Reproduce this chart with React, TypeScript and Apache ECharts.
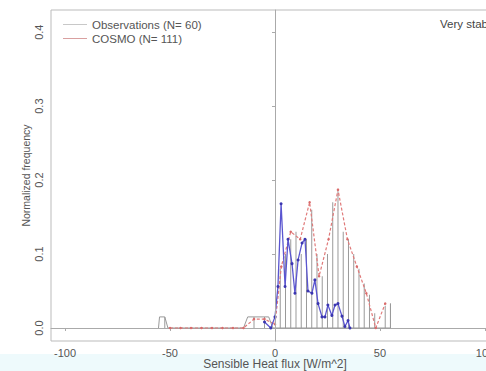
import React, { useEffect, useRef } from "react";
import * as echarts from "echarts";

const xTicks = [-100, -50, 0, 50, 100];
const yTicks = [0, 0.1, 0.2, 0.3, 0.4];

// Observation histogram bars (bin positions, normalized frequency)
const obsBarX = [-52.5, -10, -5, 2.5, 5, 7.5, 10, 12.5, 15, 17.5, 20, 22.5, 25, 27.5, 30, 32.5, 35, 37.5, 40, 42.5, 45, 47.5, 52.5, 55];
const obsBarY = [0.015, 0.015, 0.015, 0.08, 0.1, 0.12, 0.13, 0.1, 0.12, 0.16, 0.1, 0.07, 0.1, 0.17, 0.185, 0.13, 0.12, 0.1, 0.08, 0.06, 0.045, 0.02, 0.03, 0.033];

// Observation outline
const obsLineX = [-55.5, -55, -52.5, -51, -15, -13, -3, -1, 55, 55];
const obsLineY = [0, 0.015, 0.015, 0, 0, 0.015, 0.015, 0, 0, 0.033];

// COSMO frequency polygon
const cosmoX = [-50, -45, -40, -35, -30, -25, -20, -15, -10, -5, 0, 3, 7.5, 12, 16.5, 21, 25.5, 30, 34.5, 39, 43.5, 48, 52.5];
const cosmoY = [0, 0, 0, 0, 0, 0, 0, 0, 0.012, 0.012, 0.005, 0.083, 0.13, 0.12, 0.17, 0.07, 0.12, 0.187, 0.12, 0.083, 0.047, 0, 0.033];

// Second (blue) frequency polygon
const blueX = [-5, -2, 0, 1.4, 2.9, 4.8, 6.2, 8.1, 9.5, 11, 12.9, 14.3, 15.7, 17.6, 19, 20.5, 22.4, 23.8, 25.2, 27.1, 28.6, 30, 31.9, 33.3, 34.8, 35.7];
const blueY = [0.008, 0, 0.015, 0.056, 0.168, 0.056, 0.12, 0.087, 0.047, 0.092, 0.115, 0.12, 0.05, 0.047, 0.065, 0.033, 0.015, 0.015, 0.031, 0.017, 0.031, 0.033, 0.016, 0.002, 0.01, 0];

const OBS_NAME = "Observations (N= 60)";
const COSMO_NAME = "COSMO (N= 111)";

const FONT = "Liberation Sans, Arial, sans-serif";
const TXT = "#555";

export default function App() {
  const ref = useRef<HTMLDivElement>(null);
  useEffect(() => {
    if (!ref.current) return;
    const chart = echarts.init(ref.current, undefined, { renderer: "svg" });
    const zip = (xs: number[], ys: number[]) => xs.map((x, i) => [x, ys[i]]);
    chart.setOption({
      animation: false,
      backgroundColor: "#fff",
      textStyle: { fontFamily: FONT },
      grid: {
        left: 51,
        top: 10,
        right: 21,
        bottom: 30,
        containLabel: false,
        outerBoundsMode: "none",
        show: true,
        borderColor: "#bbb",
        borderWidth: 1,
      },
      legend: {
        orient: "vertical",
        left: 63,
        top: 18,
        padding: 0,
        itemWidth: 24,
        itemHeight: 1,
        itemGap: 1,
        textStyle: { fontSize: 11.5, color: TXT, lineHeight: 13, fontFamily: FONT },
        data: [
          { name: OBS_NAME, icon: "rect", itemStyle: { color: "#c8c8c8" } },
          { name: COSMO_NAME, icon: "rect", itemStyle: { color: "#d9a0a0" } },
        ],
      },
      xAxis: {
        type: "value",
        min: -106.7,
        max: 106.7,
        name: "Sensible Heat flux [W/m^2]",
        nameLocation: "middle",
        nameGap: 17,
        nameMoveOverlap: false,
        nameTextStyle: { fontSize: 12, color: TXT, fontFamily: FONT },
        axisLine: { show: true, lineStyle: { color: "#aaa" } },
        axisTick: { show: true, length: 3, customValues: xTicks, lineStyle: { color: "#aaa" } },
        axisLabel: { customValues: xTicks, fontSize: 11, color: TXT, margin: 6, fontFamily: FONT },
        splitLine: { show: false },
      },
      yAxis: {
        type: "value",
        min: -0.0176,
        max: 0.43,
        name: "Normalized frequency",
        nameLocation: "middle",
        nameGap: 20,
        nameMoveOverlap: false,
        nameRotate: 90,
        nameTextStyle: { fontSize: 10.5, color: TXT, fontFamily: FONT },
        axisLine: { show: true, lineStyle: { color: "#aaa" } },
        axisTick: { show: true, length: 3, customValues: yTicks, lineStyle: { color: "#aaa" } },
        axisLabel: {
          customValues: yTicks,
          rotate: 90,
          fontSize: 11,
          color: TXT,
          margin: 7,
          fontFamily: FONT,
          formatter: (v: number) => v.toFixed(1),
        },
        splitLine: { show: false },
      },
      series: [
        {
          type: "bar",
          name: "obsBars",
          data: zip(obsBarX, obsBarY),
          barWidth: 1,
          itemStyle: { color: "#9a9a9a" },
          silent: true,
        },
        {
          type: "line",
          name: OBS_NAME,
          data: zip(obsLineX, obsLineY),
          showSymbol: false,
          symbol: "none",
          lineStyle: { color: "#9a9a9a", width: 1 },
          itemStyle: { color: "#c8c8c8" },
          markLine: {
            silent: true,
            symbol: "none",
            label: { show: false },
            lineStyle: { color: "#aaa", width: 1, type: "solid" },
            data: [{ xAxis: 0 }],
          },
        },
        {
          type: "line",
          name: COSMO_NAME,
          data: zip(cosmoX, cosmoY),
          symbol: "circle",
          symbolSize: 2.5,
          lineStyle: { color: "#e07a7a", width: 1.2, type: [3, 2] },
          itemStyle: { color: "#d96a6a" },
        },
        {
          type: "line",
          name: "blue",
          data: zip(blueX, blueY),
          symbol: "circle",
          symbolSize: 3,
          lineStyle: { color: "#5a55d0", width: 1.3 },
          itemStyle: { color: "#3a35b0" },
        },
      ],
      graphic: [
        {
          type: "rect",
          left: 0,
          top: 354,
          z: -10,
          shape: { width: 520, height: 17 },
          style: { fill: "#eefafc" },
          silent: true,
        },
        {
          type: "text",
          left: 440,
          top: 18,
          style: { text: "Very stable", fontSize: 11.5, fill: "#444", fontFamily: FONT },
        },
      ],
    });
    return () => chart.dispose();
  }, []);
  return (
    <div style={{ position: "fixed", left: 0, top: 0, width: 486, height: 371, overflow: "hidden", background: "#fff" }}>
      <div ref={ref} style={{ width: 520, height: 371 }} />
    </div>
  );
}
